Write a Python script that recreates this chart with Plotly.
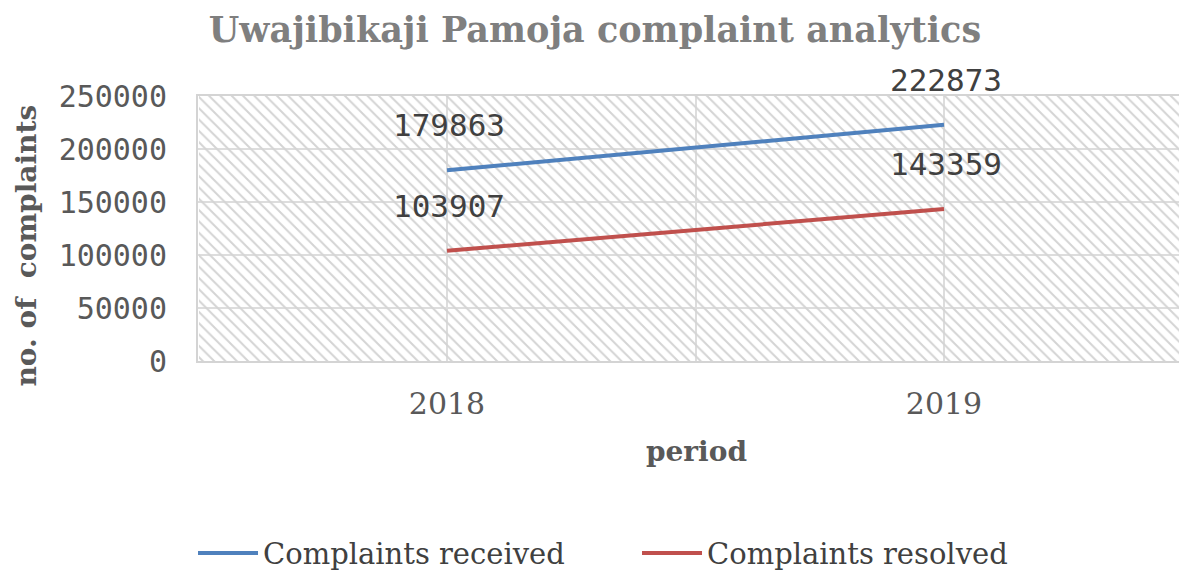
import plotly.graph_objects as go

periods = ["2018", "2019"]
received = [179863, 222873]
resolved = [103907, 143359]
series_names = ["Complaints received", "Complaints resolved"]
y_ticks = [0, 50000, 100000, 150000, 200000, 250000]
Y_MAX = 250000

BLUE = "#4f81bd"
RED = "#c0504d"
GRID = "#dddddd"

xpos = list(range(len(periods)))

fig = go.Figure()

# hatched plot-area background (spans the whole category range)
fig.add_trace(go.Bar(
    x=[xpos[0]], y=[Y_MAX], width=len(periods), offset=-0.5,
    marker=dict(color="rgba(0,0,0,0)", line=dict(width=0),
                pattern=dict(shape="\\", fgcolor="#d4d4d4", size=8,
                             solidity=0.25, fillmode="replace")),
    showlegend=False, hoverinfo="skip",
))

for name, vals, col in [(series_names[0], received, BLUE), (series_names[1], resolved, RED)]:
    fig.add_trace(go.Scatter(
        x=xpos, y=vals, mode="lines", name=name,
        line=dict(color=col, width=4),
    ))
    for xi, v in zip(xpos, vals):
        fig.add_annotation(
            x=xi, y=v, text=str(v), showarrow=False, yshift=45, xshift=2,
            font=dict(family="DejaVu Sans Mono", size=31, color="#404040"),
        )

# y-axis title (placed slightly below the plot centre, as in the original)
fig.add_annotation(
    xref="paper", yref="paper", x=-0.172, y=0.434,
    xanchor="center", yanchor="middle", textangle=-90, showarrow=False,
    text="<b>no. of  complaints</b>",
    font=dict(family="DejaVu Serif", size=28, color="#595959"),
)

fig.update_layout(
    width=1187, height=573,
    margin=dict(l=190, r=0, t=88, b=220),
    paper_bgcolor="white", plot_bgcolor="white",
    bargap=0,
    title=dict(
        text="<b>Uwajibikaji Pamoja complaint analytics</b>",
        x=0.4945, xref="container", xanchor="center",
        y=1 - 22 / 573, yanchor="middle",
        font=dict(family="DejaVu Serif", size=35, color="#7f7f7f"),
    ),
    legend=dict(
        orientation="h", x=-0.005, xanchor="left", y=-0.725, yanchor="middle",
        font=dict(family="DejaVu Serif", size=29, color="#404040"),
        itemwidth=60, entrywidth=369,
    ),
    showlegend=True,
)

fig.update_xaxes(
    range=[-0.501, 1.505], tickvals=xpos, ticktext=periods,
    showgrid=True, gridcolor=GRID, gridwidth=2,
    minor=dict(dtick=0.5, tick0=0, showgrid=True, gridcolor=GRID, gridwidth=2),
    showline=True, linecolor="#d4d4d4", linewidth=2, mirror=True,
    ticks="", ticklabelstandoff=15, automargin=False,
    tickfont=dict(family="DejaVu Serif", size=30, color="#595959"),
    title=dict(text="<b>period</b>", standoff=21,
               font=dict(family="DejaVu Serif", size=28, color="#595959")),
    zeroline=False,
)
fig.update_yaxes(
    range=[0, Y_MAX], tickvals=y_ticks, ticktext=[str(t) for t in y_ticks],
    showgrid=True, gridcolor=GRID, gridwidth=2,
    showline=True, linecolor="#d4d4d4", linewidth=2, mirror=True,
    ticks="", ticklabelstandoff=23, automargin=False,
    tickfont=dict(family="DejaVu Sans Mono", size=30, color="#595959"),
    zeroline=False,
)

fig.write_html("out.html")
